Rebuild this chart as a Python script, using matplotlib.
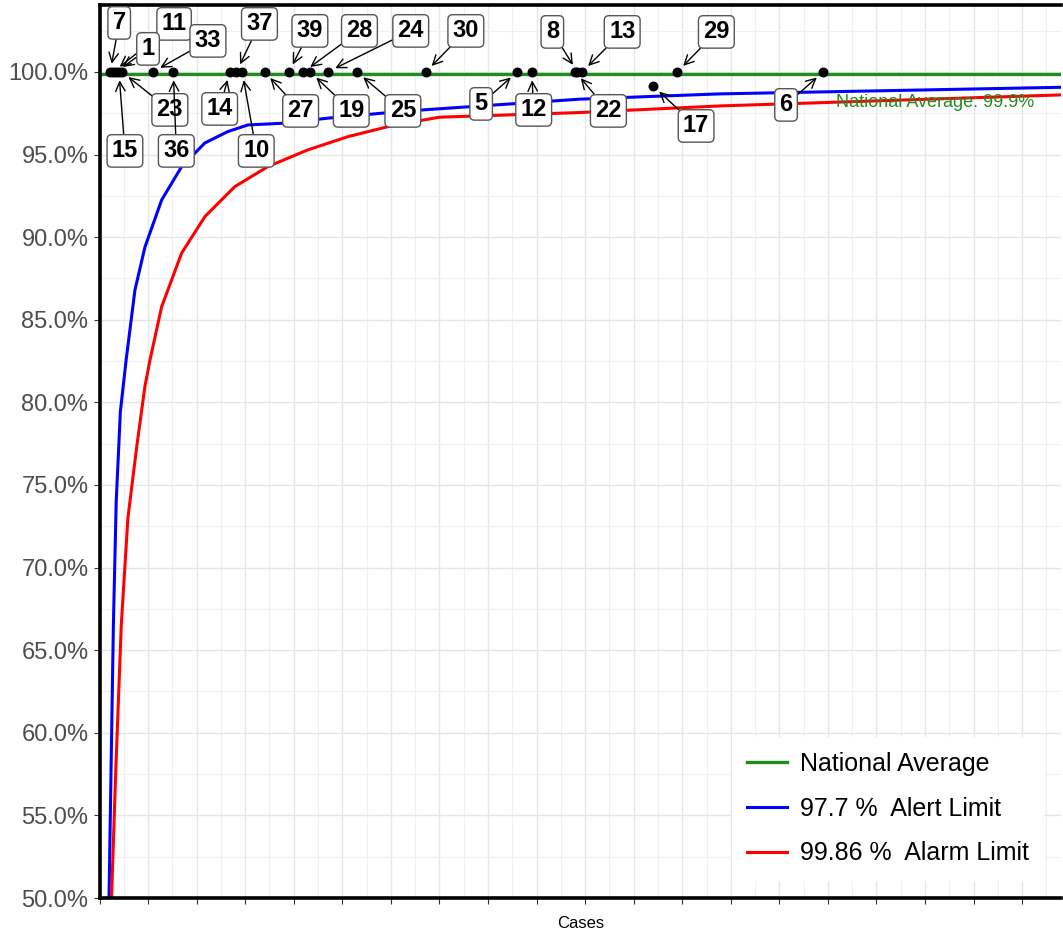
import matplotlib
matplotlib.use('Agg')
import matplotlib.pyplot as plt
from matplotlib.ticker import MultipleLocator, FuncFormatter

plt.rcParams['font.family'] = ['Liberation Sans', 'DejaVu Sans']

# hospitals (label, cases, success rate %)
hospital_ids = [7, 11, 1, 15, 23, 33, 36, 14, 37, 10, 27, 39, 28,
                19, 24, 25, 30, 5, 12, 8, 22, 13, 17, 29, 6]
hospital_cases = [11, 14, 17, 20, 23, 55, 76, 134, 141, 147, 170, 195, 210,
                  217, 235, 265, 336, 430, 445, 492, 490, 497, 570, 595, 745]
hospital_rates = [100, 100, 100, 100, 100, 100, 100, 100, 100, 100, 100, 100, 100,
                  100, 100, 100, 100, 100, 100, 100, 100, 100, 99.15, 100, 100]

NATIONAL_AVG = 99.9

# funnel limits
alert_cases = [9.8, 11.9, 14.3, 17.2, 21.5, 27.5, 36.5, 46.8, 64.0, 84.6, 108.5,
               132.2, 152.8, 187.4, 235.1, 290.3, 332.8, 494.3, 638.4, 991]
alert_pct = [50.0, 57.8, 66.5, 74.0, 79.45, 82.6, 86.8, 89.4, 92.25, 94.27, 95.7,
             96.39, 96.79, 96.89, 97.2, 97.5, 97.7, 98.35, 98.67, 99.07]
alarm_cases = [12.4, 16.8, 22.4, 29.2, 38.3, 46.8, 52.0, 64.0, 84.6, 108.5, 139.4,
               173.4, 214.5, 255.7, 304.0, 350.3, 494.3, 638.4, 991]
alarm_pct = [50.0, 57.8, 66.5, 72.97, 77.3, 80.97, 82.57, 85.79, 89.04, 91.24, 93.06,
             94.27, 95.28, 96.08, 96.79, 97.26, 97.54, 97.94, 98.61]

# label offsets in pixels (repel-style placement)
label_offsets = {
    7: (9, 49), 11: (61, 48), 1: (32, 23), 15: (6, -79), 23: (48, -38),
    33: (55, 31), 36: (3, -79), 14: (-10, -37), 37: (23, 48), 10: (14, -79),
    27: (36, -39), 39: (21, 41), 28: (56, 41), 19: (41, -39), 24: (83, 41),
    25: (46, -39), 30: (40, 41), 5: (-36, -32), 12: (2, -38), 8: (-25, 40),
    22: (33, -39), 13: (40, 40), 17: (43, -40), 29: (39, 40), 6: (-37, -33),
}

fig = plt.figure(figsize=(10.63, 9.36), dpi=100)
ax = fig.add_axes([99.5 / 1063, 38 / 936, (1061 - 99.5) / 1063, (931 - 38) / 936])

ax.set_xlim(0, 990)
ax.set_ylim(50, 104.05)
ax.xaxis.set_major_locator(MultipleLocator(50))
ax.xaxis.set_minor_locator(MultipleLocator(25))
ax.yaxis.set_major_locator(MultipleLocator(5))
ax.yaxis.set_minor_locator(MultipleLocator(2.5))
ax.yaxis.set_major_formatter(FuncFormatter(lambda v, p: '%.1f%%' % v))
ax.grid(which='major', color='#e6e6e6', lw=1.0)
ax.grid(which='minor', color='#f0f0f0', lw=0.8)
ax.set_axisbelow(True)

ax.tick_params(axis='x', which='major', labelbottom=False, length=4, color='#333333')
ax.tick_params(axis='x', which='minor', length=0)
ax.tick_params(axis='y', which='major', labelsize=17, labelcolor='#4d4d4d',
               length=4, color='#333333', pad=4)
ax.tick_params(axis='y', which='minor', length=0)
for side in ['left', 'bottom', 'top']:
    ax.spines[side].set_linewidth(2.6)
    ax.spines[side].set_color('black')
ax.spines['right'].set_visible(False)

ax.axhline(NATIONAL_AVG, color='#228b22', lw=2.4, label='National Average', zorder=2)
ax.plot(alert_cases, alert_pct, color='blue', lw=2.2, label='97.7 %  Alert Limit', zorder=2)
ax.plot(alarm_cases, alarm_pct, color='red', lw=2.2, label='99.86 %  Alarm Limit', zorder=2)

ax.scatter(hospital_cases, hospital_rates, s=38, color='black', zorder=4)

for hid, c, r in zip(hospital_ids, hospital_cases, hospital_rates):
    dx, dy = label_offsets[hid]
    ax.annotate(str(hid), xy=(c, r), xytext=(dx, dy), textcoords='offset pixels',
                ha='center', va='center', fontsize=17, fontweight='bold',
                bbox=dict(boxstyle='round,pad=0.2', fc='white', ec='#555555', lw=1),
                arrowprops=dict(arrowstyle='->', color='black', lw=1,
                                shrinkA=0, shrinkB=6),
                zorder=5)

ax.text(758, 98.15, 'National Average: 99.9%', color='#228b22', fontsize=13,
        ha='left', va='center', zorder=3)

ax.set_xlabel('Cases', fontsize=12, labelpad=9)

leg = ax.legend(loc='lower right', bbox_to_anchor=(1.0, 0.0), fontsize=18,
                frameon=True, fancybox=False, framealpha=1, edgecolor='white',
                handlelength=1.6, handletextpad=0.5, labelspacing=0.84,
                borderpad=0.6, borderaxespad=0.7)
leg.get_frame().set_linewidth(0)

fig.savefig('out.png', dpi=100)
